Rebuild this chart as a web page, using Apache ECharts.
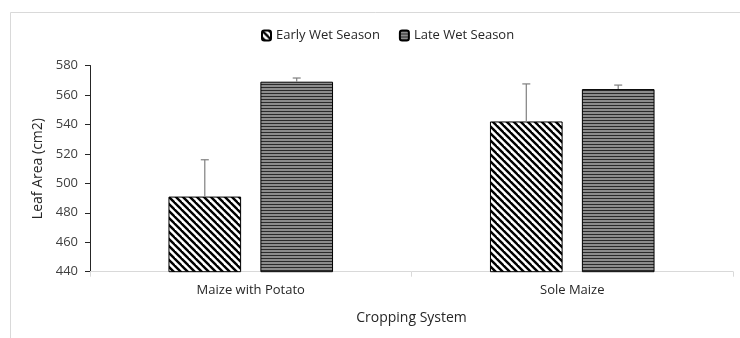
<!DOCTYPE html>
<html>
<head>
<meta charset="utf-8">
<script src="https://cdn.jsdelivr.net/npm/echarts@6/dist/echarts.min.js"></script>
<style>
html,body{margin:0;padding:0;background:#fff;}
#chart{width:740px;height:338px;}
</style>
</head>
<body>
<div id="chart"></div>
<script>
var categories = ['Maize with Potato', 'Sole Maize'];
var seriesNames = ['Early Wet Season', 'Late Wet Season'];
var earlyValues = [491, 542];
var earlyErrors = [25, 25.5];
var lateValues = [569, 564];
var lateErrors = [2.5, 2.7];
var yTicks = [440, 460, 480, 500, 520, 540, 560, 580];

function diagPattern() {
  var s = 7;
  var c = document.createElement('canvas');
  c.width = s; c.height = s;
  var g = c.getContext('2d');
  g.fillStyle = '#fff';
  g.fillRect(0, 0, s, s);
  g.strokeStyle = '#000';
  g.lineWidth = 2.4;
  for (var k = -1; k <= 1; k++) {
    g.beginPath();
    g.moveTo(k * s - 1, -1);
    g.lineTo(k * s + s + 1, s + 1);
    g.stroke();
  }
  return c;
}
function horizPattern() {
  var c = document.createElement('canvas');
  c.width = 4; c.height = 3;
  var g = c.getContext('2d');
  g.fillStyle = '#8c8c8c';
  g.fillRect(0, 0, 4, 3);
  g.fillStyle = '#2a2a2a';
  g.fillRect(0, 0, 4, 1);
  return c;
}

var chart = echarts.init(document.getElementById('chart'), null, {renderer: 'canvas'});
var barW = 0.226, gap = 0.265;
var offsets = [-(barW * (2 + gap)) / 2 + barW / 2, (barW * (2 + gap)) / 2 - barW / 2];

function errSeries(vals, errs, idx) {
  return {
    type: 'custom',
    silent: true,
    z: 5,
    data: vals.map(function (v, i) { return [i, v, v + errs[i]]; }),
    renderItem: function (params, api) {
      var band = api.size([1, 0])[0];
      var base = api.coord([api.value(0), api.value(1)]);
      var top = api.coord([api.value(0), api.value(2)]);
      var x = base[0] + offsets[idx] * band;
      var cw = 4;
      var st = {stroke: '#7f7f7f', lineWidth: 1.2};
      return {
        type: 'group',
        children: [
          {type: 'line', shape: {x1: x, y1: base[1], x2: x, y2: top[1]}, style: st},
          {type: 'line', shape: {x1: x - cw, y1: top[1], x2: x + cw, y2: top[1]}, style: st}
        ]
      };
    }
  };
}

var option = {
  animation: false,
  backgroundColor: '#fff',
  textStyle: {fontFamily: 'Open Sans, Noto Sans, sans-serif'},
  graphic: [{
    type: 'rect', left: 8, top: 10, silent: true,
    shape: {width: 800, height: 400},
    style: {fill: 'none', stroke: '#d9d9d9', lineWidth: 1}
  }],
  legend: {
    top: 24,
    left: 256,
    itemWidth: 9,
    itemHeight: 10,
    itemGap: 19,
    data: seriesNames,
    textStyle: {fontSize: 13, color: '#262626', fontFamily: 'Open Sans'}
  },
  grid: {left: 90, right: 7, top: 65.5, bottom: 66.3},
  xAxis: {
    type: 'category',
    data: categories,
    name: 'Cropping System',
    nameLocation: 'middle',
    nameGap: 39,
    nameTextStyle: {fontSize: 14, color: '#262626'},
    axisLine: {lineStyle: {color: '#d9d9d9', width: 1}},
    axisTick: {show: true, alignWithLabel: false, length: 5, lineStyle: {color: '#d9d9d9'}},
    axisLabel: {fontSize: 13, color: '#262626', margin: 12}
  },
  yAxis: {
    type: 'value',
    min: yTicks[0],
    max: yTicks[yTicks.length - 1],
    interval: 20,
    name: 'Leaf Area (cm2)',
    nameLocation: 'middle',
    nameGap: 41,
    nameTextStyle: {fontSize: 14, color: '#262626'},
    splitLine: {show: false},
    axisLine: {show: true, lineStyle: {color: '#262626', width: 1}},
    axisTick: {show: true, length: 5, lineStyle: {color: '#262626'}},
    axisLabel: {fontSize: 13, color: '#404040', margin: 12}
  },
  series: [
    {
      name: seriesNames[0], type: 'bar', data: earlyValues,
      barWidth: (barW * 100) + '%', barGap: (gap * 100) + '%',
      itemStyle: {color: {image: diagPattern(), repeat: 'repeat'}, borderColor: '#000', borderWidth: 1}
    },
    {
      name: seriesNames[1], type: 'bar', data: lateValues,
      barWidth: (barW * 100) + '%', barGap: (gap * 100) + '%',
      itemStyle: {color: {image: horizPattern(), repeat: 'repeat'}, borderColor: '#000', borderWidth: 1}
    },
    errSeries(earlyValues, earlyErrors, 0),
    errSeries(lateValues, lateErrors, 1)
  ]
};
chart.setOption(option);
</script>
</body>
</html>
